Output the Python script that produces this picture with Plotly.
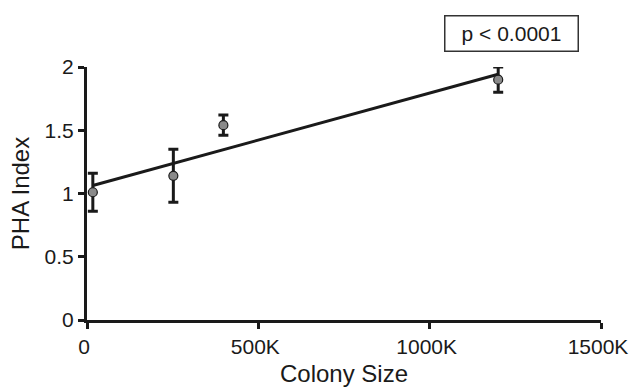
import numpy as np
import plotly.graph_objects as go

# Data
colony_size = [17000, 252000, 398000, 1200000]
pha_index = [1.01, 1.14, 1.54, 1.90]
pha_error = [0.15, 0.21, 0.08, 0.10]
x_ticks = [0, 500000, 1000000, 1500000]
x_tick_labels = ["0", "500K", "1000K", "1500K"]
y_ticks = [0, 0.5, 1, 1.5, 2]
y_tick_labels = ["0", "0.5", "1", "1.5", "2"]
p_text = "p < 0.0001"

slope, intercept = np.polyfit(colony_size, pha_index, 1)
fit_x = [colony_size[0], colony_size[-1]]
fit_y = [intercept + slope * v for v in fit_x]

FONT = "Liberation Sans, Arial, Helvetica, sans-serif"
INK = "#1a1a1a"

fig = go.Figure()
fig.add_trace(go.Scatter(
    x=fit_x, y=fit_y, mode="lines",
    line=dict(color=INK, width=3), showlegend=False, hoverinfo="skip",
    cliponaxis=False,
))
fig.add_trace(go.Scatter(
    x=colony_size, y=pha_index, mode="markers",
    marker=dict(size=9, color="#8a8a8a", line=dict(color=INK, width=1.2)),
    error_y=dict(type="data", array=pha_error, visible=True,
                 color=INK, thickness=3, width=5),
    showlegend=False, cliponaxis=False,
))

fig.add_annotation(
    x=1240000, xref="x", y=1.133, yref="paper",
    xanchor="center", yanchor="middle",
    text=p_text, showarrow=False,
    font=dict(family=FONT, size=21, color=INK),
    bordercolor="#333333", borderwidth=1.5, borderpad=2,
    bgcolor="white", width=128, height=30,
)

fig.update_layout(
    width=630, height=388,
    margin=dict(l=87, r=29, t=67, b=68, autoexpand=False),
    paper_bgcolor="white", plot_bgcolor="white",
    font=dict(family=FONT, color=INK),
)
fig.update_xaxes(
    range=[0, 1500000], tickvals=x_ticks, ticktext=x_tick_labels,
    showgrid=False, zeroline=False, automargin=False,
    showline=True, linecolor=INK, linewidth=3,
    ticks="outside", ticklen=6, tickwidth=3, tickcolor=INK,
    tickfont=dict(family=FONT, size=21, color=INK),
    ticklabeloverflow="allow", ticklabelshift=-3,
    title=dict(text="Colony Size", font=dict(family=FONT, size=24, color=INK), standoff=8),
)
fig.update_yaxes(
    range=[0, 2], tickvals=y_ticks, ticktext=y_tick_labels,
    showgrid=False, zeroline=False, automargin=False,
    showline=True, linecolor=INK, linewidth=3,
    ticks="outside", ticklen=6, tickwidth=3, tickcolor=INK,
    tickfont=dict(family=FONT, size=21, color=INK),
    title=dict(text="PHA Index", font=dict(family=FONT, size=24, color=INK), standoff=9),
)

fig.write_html("out.html")
